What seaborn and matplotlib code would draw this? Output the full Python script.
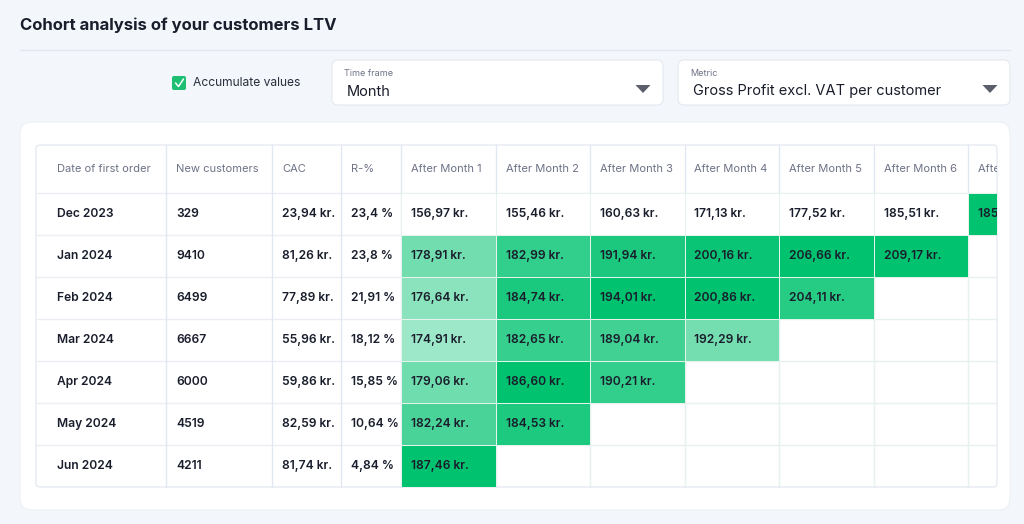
import numpy as np
import pandas as pd
import matplotlib
matplotlib.use('Agg')
import matplotlib.pyplot as plt
from matplotlib.patches import FancyBboxPatch, Rectangle, Polygon
from matplotlib.colors import LinearSegmentedColormap
import seaborn as sns

sns.set_style('white')
plt.rcParams['font.family'] = ['Inter', 'DejaVu Sans']

# ---- data ----
cohorts = ['Dec 2023', 'Jan 2024', 'Feb 2024', 'Mar 2024', 'Apr 2024', 'May 2024', 'Jun 2024']
new_customers = [329, 9410, 6499, 6667, 6000, 4519, 4211]
cac = [23.94, 81.26, 77.89, 55.96, 59.86, 82.59, 81.74]
r_pct = [23.4, 23.8, 21.91, 18.12, 15.85, 10.64, 4.84]
months = ['After Month 1', 'After Month 2', 'After Month 3', 'After Month 4',
          'After Month 5', 'After Month 6', 'After Month 7']
ltv_dec = [156.97, 155.46, 160.63, 171.13, 177.52, 185.51, 185.93]
ltv_jan = [178.91, 182.99, 191.94, 200.16, 206.66, 209.17]
ltv_feb = [176.64, 184.74, 194.01, 200.86, 204.11]
ltv_mar = [174.91, 182.65, 189.04, 192.29]
ltv_apr = [179.06, 186.60, 190.21]
ltv_may = [182.24, 184.53]
ltv_jun = [187.46]

rows = [ltv_dec, ltv_jan, ltv_feb, ltv_mar, ltv_apr, ltv_may, ltv_jun]
ltv = pd.DataFrame([r + [np.nan] * (len(months) - len(r)) for r in rows],
                   index=cohorts, columns=months)

# colour each column from its own min to max
lo, hi = ltv.min(), ltv.max()
span = (hi - lo).replace(0, np.nan)
shade = ((ltv - lo) / span).fillna(1.0).where(ltv.notna()) ** 1.8

def kr(v):
    return f"{v:.2f}".replace('.', ',') + ' kr.'

# ---- figure ----
fig = plt.figure(figsize=(10.24, 5.24), dpi=100)
fig.patch.set_facecolor('#F3F6FA')
ax = fig.add_axes([0, 0, 1, 1])
ax.set_xlim(0, 1024)
ax.set_ylim(524, 0)
ax.axis('off')

dark = '#1A1E2C'
grey = '#6E7286'
body_w = 'semibold'
body_fs = 8.7

ax.text(20, 25, 'Cohort analysis of your customers LTV', fontsize=12,
        fontweight='bold', color=dark, va='center')
ax.plot([20, 1010], [50, 50], color='#E3E7EE', lw=1)

# checkbox
ax.add_patch(FancyBboxPatch((172, 76), 14, 14, boxstyle='round,pad=0,rounding_size=2',
                            fc='#1DBF73', ec='none'))
ax.plot([175.5, 178.5, 183.5], [83, 86.5, 79], color='white', lw=1.1)
ax.text(193, 83.5, 'Accumulate values', fontsize=8.7, color='#2A2F3D', va='center')

# dropdowns
for x0, x1, lab, val in [(332, 663, 'Time frame', 'Month'),
                         (678, 1010, 'Metric', 'Gross Profit excl. VAT per customer')]:
    ax.add_patch(FancyBboxPatch((x0, 60), x1 - x0, 45,
                                boxstyle='round,pad=0,rounding_size=6',
                                fc='white', ec='#E4E8EF', lw=0.8))
    ax.text(x0 + 12, 74, lab, fontsize=6.5, color=grey, va='center')
    ax.text(x0 + 15, 91.5, val, fontsize=10.5, color=dark, va='center')
    tx = x1 - 20
    ax.add_patch(Polygon([(tx - 7.5, 85), (tx + 7.5, 85), (tx, 93)],
                         closed=True, fc='#5A5F6B', ec='none'))

# card
ax.add_patch(FancyBboxPatch((20, 122), 990, 388, boxstyle='round,pad=0,rounding_size=12',
                            fc='white', ec='#EDF0F4', lw=0.8))

# table geometry (pixels)
tx0, tx1 = 36, 997
ty0, hy = 145, 193
rh = 42
col_edges = [36, 166, 272, 341, 401]
mw = 94.5
month_edges = [401 + mw * k for k in range(len(months) + 1)]
ty1 = hy + rh * len(cohorts)

clip = Rectangle((tx0, ty0), tx1 - tx0, ty1 - ty0, transform=ax.transData)

for y in [hy + rh * k for k in range(1, len(cohorts))] + [hy]:
    ax.plot([tx0, tx1], [y, y], color='#EBEEF4', lw=1)
for x in col_edges[1:] + month_edges[1:]:
    if x < tx1:
        ax.plot([x, x], [ty0, ty1], color='#E1E7F3', lw=1)
ax.add_patch(FancyBboxPatch((tx0, ty0), tx1 - tx0, ty1 - ty0,
                            boxstyle='round,pad=0,rounding_size=4',
                            fc='none', ec='#E6EAF0', lw=1))

# header
fixed_heads = ['Date of first order', 'New customers', 'CAC', 'R-%']
pads = [21, 10, 10, 10]
for h, x, p in zip(fixed_heads, col_edges, pads):
    ax.text(x + p, (ty0 + hy) / 2, h, fontsize=8, color=grey, va='center')
for h, x in zip(months, month_edges):
    t = ax.text(x + 10, (ty0 + hy) / 2, h, fontsize=8, color=grey, va='center')
    t.set_clip_on(True)
    t.set_clip_path(clip)

# fixed columns
for i, c in enumerate(cohorts):
    yc = hy + rh * i + rh / 2
    vals = [c, str(new_customers[i]), kr(cac[i]), f"{r_pct[i]:g}".replace('.', ',') + ' %']
    for v, x, p in zip(vals, col_edges, pads):
        ax.text(x + p, yc, v, fontsize=body_fs, color=dark, va='center', fontweight=body_w)

# heatmap of LTV
hax = fig.add_axes([401 / 1024, (524 - ty1) / 524, (tx1 - 401) / 1024, (ty1 - hy) / 524])
cmap = LinearSegmentedColormap.from_list('ltv', ['#FFFFFF', '#00C26F'])
sns.heatmap(shade, ax=hax, cmap=cmap, vmin=0, vmax=1, mask=ltv.isna(), cbar=False,
            linewidths=0.7, linecolor='#E6F2EC', xticklabels=False, yticklabels=False)
hax.patch.set_alpha(0)
hax.set_xlim(0, (tx1 - 401) / mw)
hax.set_ylim(len(cohorts), 0)
for s in hax.spines.values():
    s.set_visible(False)
for i in range(len(cohorts)):
    for j in range(len(months)):
        v = ltv.iat[i, j]
        if not np.isnan(v):
            hax.text(j + 10 / mw, i + 0.5, kr(v), fontsize=body_fs, color=dark,
                     va='center', ha='left', clip_on=True, fontweight=body_w)

fig.savefig('out.png', dpi=100, facecolor=fig.get_facecolor())
